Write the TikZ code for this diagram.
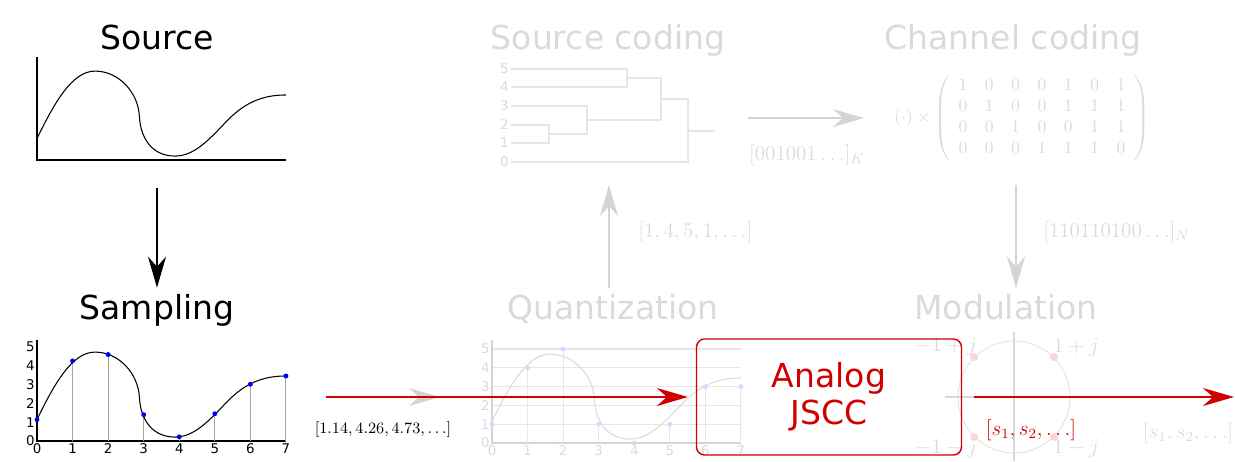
\documentclass[tikz,border=0pt]{standalone}
\usepackage{fontspec}
\setmainfont{DejaVu Sans}
\usepackage{tikz}
\usetikzlibrary{arrows.meta, calc, positioning}

\definecolor{fadetext}{RGB}{218,218,218}
\definecolor{fadeline}{RGB}{230,230,230}
\definecolor{fadearrow}{RGB}{212,212,212}
\definecolor{fadeblue}{RGB}{216,216,255}
\definecolor{fadered}{RGB}{255,212,212}
\definecolor{jsccred}{RGB}{208,0,0}

\tikzset{
  sigcurve/.pic={\draw[pic actions] (0,1.14) .. controls (0.5,3.1) and (1.0,4.73) .. (1.63,4.73)
    .. controls (2.3,4.73) and (2.85,3.6) .. (2.88,2.3)
    .. controls (2.92,1.0) and (3.3,0.21) .. (3.88,0.21)
    .. controls (4.4,0.21) and (4.8,1.0) .. (5.3,2.0)
    .. controls (5.8,3.0) and (6.3,3.46) .. (7,3.46);}
}

\begin{document}
\begin{tikzpicture}[x=0.02cm, y=-0.02cm,
    title/.style={font=\fontsize{18.8}{21}\selectfont, anchor=base},
    tick/.style={font=\fontsize{7.6}{8}\selectfont, inner sep=1.2pt},
    veclabel/.style={font=\fontsize{11.5}{13}\selectfont, inner sep=0pt},
    plain/.style={line width=0.6pt},
    head/.style={-{Stealth[length=0.62cm, width=0.36cm, inset=0.2cm]}},
    fadearr/.style={head, draw=fadearrow, line width=0.9pt},
    redarr/.style={head, draw=jsccred, line width=1.1pt},
    dendro/.style={draw=fadeline, line width=0.6pt},
    jsccbox/.style={draw=jsccred, line width=0.8pt, rounded corners=0.16cm, text=jsccred,
      align=center, font=\fontsize{18.8}{21}\selectfont, minimum width=5.3cm, minimum height=2.32cm}]

	\useasboundingbox (0,0) rectangle (1235,461);

	\coordinate (srcbot) at (157,188);
	\coordinate (sctop) at (609,185);
	\coordinate (dendr) at (748,118);
	\coordinate (matl) at (864,118);
	\coordinate (ccbot) at (1016,185);
	\coordinate (smpout) at (326,397);
	\coordinate (qin) at (440,397);
	\coordinate (out) at (1234,397);

	\node[title] (src) at (157,49) {Source};
	\node[title] (smp) at (157,319) {Sampling};
	\node[title, text=fadetext] (scod) at (608,49) {Source coding};
	\node[title, text=fadetext] (ccod) at (1013,49) {Channel coding};
	\node[title, text=fadetext] (qnt) at (613,319) {Quantization};
	\node[title, text=fadetext] (mod) at (1006,319) {Modulation};

	% source signal
	\begin{scope}[shift={(37,160)}, x=0.7114cm, y=0.376cm]
		\draw[plain] (0,5.48) -- (0,0) -- (7,0);
		\pic[draw=black, line width=0.6pt] {sigcurve};
	\end{scope}

	% sampled signal
	\begin{scope}[shift={(37,441)}, x=0.7114cm, y=0.376cm]
		\draw[plain] (0,5.37) -- (0,0) -- (7,0);
		\foreach \i/\v in {1/4.26, 2/4.6, 3/1.4, 4/0.22, 5/1.45, 6/3.02, 7/3.46}
			\draw[gray!70, plain] (\i,0) -- (\i,\v);
		\pic[draw=black, line width=0.6pt] {sigcurve};
		\foreach \i/\v in {0/1.14, 1/4.26, 2/4.6, 3/1.4, 4/0.22, 5/1.45, 6/3.02, 7/3.46}
			\fill[blue] (\i,\v) circle[radius=1.4pt];
		\foreach \i in {0,...,7} \node[tick, below] (sx\i) at (\i,0) {\i};
		\foreach \j in {0,...,5} \node[tick, left] (sy\j) at (0,\j) {\j};
	\end{scope}

	% quantized signal
	\begin{scope}[shift={(492,443)}, x=0.7114cm, y=0.376cm]
		\foreach \j in {1,...,5} \draw[fadeline, plain] (0,\j) -- (7,\j);
		\draw[fadearrow, plain] (0,5.48) -- (0,0) -- (7,0);
		\foreach \i/\v in {1/4, 2/5, 3/1, 5/1, 6/3, 7/3}
			\draw[fadeline, plain] (\i,0) -- (\i,\v);
		\pic[draw=fadetext, line width=0.6pt] {sigcurve};
		\foreach \i/\v in {0/1, 1/4, 2/5, 3/1, 4/0, 5/1, 6/3, 7/3}
			\fill[fadeblue] (\i,\v) circle[radius=1.4pt];
		\foreach \i in {0,...,7} \node[tick, below, text=fadetext] (qx\i) at (\i,0) {\i};
		\foreach \j in {0,...,5} \node[tick, left, text=fadetext] (qy\j) at (0,\j) {\j};
	\end{scope}

	% source coding tree
	\foreach \j/\y in {0/162, 1/143, 2/125, 3/106, 4/87, 5/69}
		\node[tick, left, text=fadetext] (dy\j) at (511,\y) {\j};
	\draw[dendro] (511,69) -| (627,87) -- (511,87);
	\draw[dendro] (511,125) -| (549,143) -- (511,143);
	\draw[dendro] (549,134) -| (587,106) -- (511,106);
	\draw[dendro] (627,78) -| (661,120) -- (587,120);
	\draw[dendro] (661,99) -| (688,162) -- (511,162);
	\draw[dendro] (688,131) -- (715,131);

	% channel coding
	\node[anchor=west, inner sep=0pt, text=fadetext, font=\fontsize{10}{12}\selectfont] (gmat) at (894,118)
		{$(\cdot)\times\left(\begin{array}{ccccccc}
			1&0&0&0&1&0&1\\ 0&1&0&0&1&1&1\\ 0&0&1&0&0&1&1\\ 0&0&0&1&1&1&0
		\end{array}\right)$};

	% modulation
	\draw[fadeline, plain] (1014,397) circle[radius=1.12cm];
	\draw[fadearrow!90!white, plain] (1014,332) -- (1014,461);
	\draw[fadearrow!90!white, plain] (945,397) -- (1083,397);
	\foreach \dx/\dy in {1/1, -1/1, -1/-1, 1/-1}
		\fill[fadered] ($(1014,397)+(40*\dx,-40*\dy)$) circle[radius=2.3pt];
	\node[veclabel, text=fadetext] (pp) at (1076,348) {$1+j$};
	\node[veclabel, text=fadetext] (mp) at (946,347) {$-1+j$};
	\node[veclabel, text=fadetext] (mm) at (946,449) {$-1-j$};
	\node[veclabel, text=fadetext] (pm) at (1076,449) {$1-j$};

	% faded links
	\draw[fadearr] (qnt.north -| sctop) -- (sctop);
	\draw[fadearr] (dendr) -- (matl);
	\draw[fadearr] (ccbot) -- (ccbot |- mod.north);
	\draw[fadearr] (smpout) -- (qin);
	\node[veclabel, text=fadetext] (lq) at (807,155) {$[001001\ldots]_K$};
	\node[veclabel, text=fadetext, anchor=west] (lsc) at (638,232) {$[1,4,5,1,\ldots]$};
	\node[veclabel, text=fadetext, anchor=west] (lcc) at (1043,232) {$[110110100\ldots]_N$};
	\node[veclabel, text=fadetext] (lmod) at (1188,433) {$[s_1,s_2,\ldots]$};

	\draw[head, line width=0.9pt] (srcbot) -- (srcbot |- smp.north);
	\node[font=\fontsize{9.5}{11}\selectfont] (lsmp) at (383,430) {$[1.14,4.26,4.73,\ldots]$};

	% analog JSCC
	\node[jsccbox] (jscc) at (829,397) {Analog\\JSCC};
	\draw[redarr, shorten >=0.16cm] (smpout) -- (jscc.west);
	\draw[redarr, shorten <=0.24cm] (jscc.east) -- (out);
	\node[veclabel, text=jsccred] (ljscc) at (1031,430) {$[s_1,s_2,\ldots]$};

\end{tikzpicture}
\end{document}
